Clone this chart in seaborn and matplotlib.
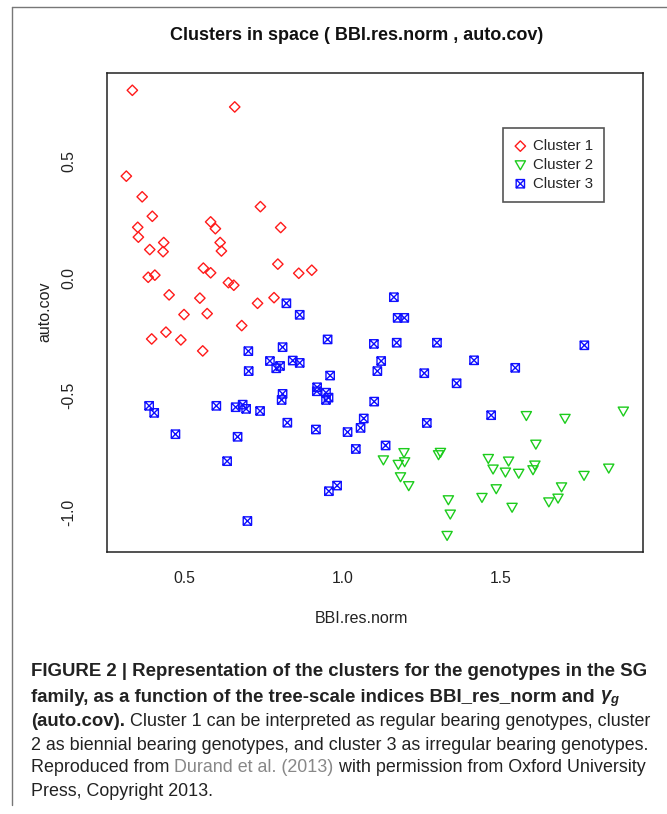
import numpy as np
import pandas as pd
import matplotlib
matplotlib.use("Agg")
import matplotlib.pyplot as plt
from matplotlib.path import Path
from matplotlib.lines import Line2D
import seaborn as sns

# cluster 1 - regular bearing
c1_bbi = [0.337, 0.660, 0.318, 0.368, 0.400, 0.354, 0.356, 0.392, 0.436, 0.434, 0.584, 0.599,
          0.614, 0.618, 0.387, 0.408, 0.561, 0.584, 0.640, 0.657, 0.453, 0.550, 0.741, 0.805,
          0.796, 0.862, 0.903, 0.784, 0.732, 0.682, 0.500, 0.573, 0.443, 0.398, 0.490, 0.559]
c1_auto = [0.801, 0.730, 0.435, 0.347, 0.264, 0.217, 0.175, 0.122, 0.152, 0.113, 0.240, 0.211,
           0.152, 0.116, 0.004, 0.013, 0.043, 0.023, -0.019, -0.030, -0.071, -0.085, 0.305, 0.216,
           0.060, 0.021, 0.034, -0.083, -0.107, -0.202, -0.155, -0.151, -0.230, -0.259, -0.263, -0.310]

# cluster 2 - biennial bearing
c2_bbi = [1.129, 1.194, 1.176, 1.196, 1.183, 1.209, 1.309, 1.303, 1.460, 1.524, 1.475, 1.514,
          1.556, 1.485, 1.440, 1.334, 1.340, 1.535, 1.330, 1.580, 1.702, 1.886, 1.610, 1.607,
          1.601, 1.762, 1.840, 1.691, 1.680, 1.651]
c2_auto = [-0.775, -0.744, -0.794, -0.783, -0.847, -0.885, -0.743, -0.753, -0.769, -0.780, -0.814, -0.827,
           -0.832, -0.898, -0.935, -0.945, -1.006, -0.977, -1.097, -0.586, -0.598, -0.567, -0.708, -0.797,
           -0.817, -0.841, -0.810, -0.890, -0.938, -0.954]

# cluster 3 - irregular bearing
c3_bbi = [0.823, 0.865, 0.953, 1.099, 0.811, 0.703, 0.704, 0.771, 0.791, 0.803, 0.843, 0.865,
          0.390, 0.406, 0.602, 0.663, 0.685, 0.696, 0.740, 0.473, 0.669, 0.636, 0.700, 1.162,
          1.174, 1.195, 1.171, 1.298, 1.122, 1.110, 0.961, 1.258, 1.415, 1.545, 1.763, 1.360,
          1.469, 1.266, 1.136, 0.811, 0.808, 0.920, 0.919, 0.948, 0.956, 0.948, 1.100, 0.826,
          0.916, 1.067, 1.057, 1.016, 1.042, 0.983, 0.957]
c3_auto = [-0.107, -0.156, -0.261, -0.280, -0.294, -0.311, -0.396, -0.353, -0.384, -0.374, -0.351, -0.361,
           -0.544, -0.574, -0.544, -0.550, -0.539, -0.557, -0.566, -0.665, -0.676, -0.780, -1.035, -0.081,
           -0.169, -0.169, -0.275, -0.275, -0.353, -0.396, -0.415, -0.405, -0.350, -0.382, -0.286, -0.448,
           -0.584, -0.617, -0.713, -0.493, -0.519, -0.465, -0.482, -0.488, -0.509, -0.519, -0.526, -0.616,
           -0.645, -0.598, -0.638, -0.656, -0.728, -0.884, -0.908]

cluster_names = ['Cluster 1', 'Cluster 2', 'Cluster 3']
x_ticks = [0.5, 1.0, 1.5]
y_ticks = [-1.0, -0.5, 0.0, 0.5]

df = pd.concat([
    pd.DataFrame({'BBI.res.norm': c1_bbi, 'auto.cov': c1_auto, 'cluster': cluster_names[0]}),
    pd.DataFrame({'BBI.res.norm': c2_bbi, 'auto.cov': c2_auto, 'cluster': cluster_names[1]}),
    pd.DataFrame({'BBI.res.norm': c3_bbi, 'auto.cov': c3_auto, 'cluster': cluster_names[2]}),
], ignore_index=True)

sns.set_style("white")
plt.rcParams['font.family'] = ['Liberation Sans', 'DejaVu Sans']
plt.rcParams['mathtext.fontset'] = 'custom'
plt.rcParams['mathtext.it'] = 'Liberation Sans:italic:bold'
plt.rcParams['mathtext.rm'] = 'Liberation Sans:bold'

# R-like markers: open triangle down (pch 6) and square with cross (pch 7)
tri_down = Path([(-1, 0.8), (1, 0.8), (0, -0.95), (-1, 0.8)],
                [Path.MOVETO, Path.LINETO, Path.LINETO, Path.CLOSEPOLY])
box_x = Path([(-1, -1), (1, -1), (1, 1), (-1, 1), (-1, -1),
              (-1, -1), (1, 1), (-1, 1), (1, -1)],
             [Path.MOVETO, Path.LINETO, Path.LINETO, Path.LINETO, Path.CLOSEPOLY,
              Path.MOVETO, Path.LINETO, Path.MOVETO, Path.LINETO])

styles = {
    'Cluster 1': dict(marker='D', color='#ff1a1a', s=28),
    'Cluster 2': dict(marker=tri_down, color='#1ccc1c', s=54),
    'Cluster 3': dict(marker=box_x, color='#1010ff', s=36),
}

fig = plt.figure(figsize=(6.67, 8.14), dpi=100)
ax = fig.add_axes([0.1604, 0.3219, 0.8036, 0.5888])

for name in cluster_names:
    st = styles[name]
    sub = df[df['cluster'] == name]
    sns.scatterplot(data=sub, x='BBI.res.norm', y='auto.cov', ax=ax,
                    marker=st['marker'], s=st['s'], color=st['color'],
                    facecolor='none', edgecolor=st['color'], linewidth=1.0,
                    label=name, legend=False, zorder=3)

ax.set_xlim(0.257, 1.948)
ax.set_ylim(-1.167, 0.876)
ax.set_xticks(x_ticks)
ax.set_xticklabels([f'{v:.1f}' for v in x_ticks])
ax.set_yticks(y_ticks)
ax.set_yticklabels([f'{v:.1f}' for v in y_ticks], rotation=90, va='center')
ax.tick_params(axis='both', direction='out', length=5, width=0.9, color='#555555',
               labelsize=11.3, labelcolor='#222222')
ax.tick_params(axis='x', pad=9)
ax.tick_params(axis='y', pad=17)
for sp in ax.spines.values():
    sp.set_visible(True)
    sp.set_color('#222222')
    sp.set_linewidth(1.1)

ax.set_xlabel('BBI.res.norm', fontsize=11.5, color='#222222', va='center')
ax.set_ylabel('auto.cov', fontsize=11.5, color='#222222', va='center', ha='center')
ax.xaxis.set_label_coords(0.474, -0.138)
ax.yaxis.set_label_coords(-0.116, 0.501)

leg = ax.legend(loc='upper left', bbox_to_anchor=(0.739, 0.885), fontsize=10.8,
                frameon=True, fancybox=False, edgecolor='#555555', framealpha=1,
                handlelength=0.8, handletextpad=0.45, labelspacing=0.32,
                borderpad=0.75, borderaxespad=0)
leg.get_frame().set_linewidth(1.2)

fig.text(357 / 667, 1 - 35 / 814, 'Clusters in space ( BBI.res.norm , auto.cov)',
         ha='center', va='center', fontsize=13, fontweight='bold', color='#111111')

# border lines of the figure panel
fig.add_artist(Line2D([12 / 667, 12 / 667], [1 - 7 / 814, 1 - 805 / 814],
                      transform=fig.transFigure, color='#777777', lw=1))
fig.add_artist(Line2D([12 / 667, 1], [1 - 7 / 814, 1 - 7 / 814],
                      transform=fig.transFigure, color='#777777', lw=1))

# caption
cap_x = 31 / 667
size_bold = 13.4
size_reg = 12.9
dark = '#222222'
line_y = [670, 695, 719, 743, 766, 790]
caption = [
    [('FIGURE 2 | Representation of the clusters for the genotypes in the SG', 'bold', dark)],
    [('family, as a function of the tree-scale indices BBI_res_norm and ', 'bold', dark),
     (r'$\gamma_g$', 'bold', dark)],
    [('(auto.cov).', 'bold', dark),
     (' Cluster 1 can be interpreted as regular bearing genotypes, cluster', 'normal', dark)],
    [('2 as biennial bearing genotypes, and cluster 3 as irregular bearing genotypes.', 'normal', dark)],
    [('Reproduced from ', 'normal', dark), ('Durand et al. (2013)', 'normal', '#888888'),
     (' with permission from Oxford University', 'normal', dark)],
    [('Press, Copyright 2013.', 'normal', dark)],
]
renderer = fig.canvas.get_renderer()
for y, parts in zip(line_y, caption):
    x = cap_x
    for txt, weight, col in parts:
        size = size_bold if weight == 'bold' else size_reg
        t = fig.text(x, 1 - y / 814, txt, ha='left', va='center_baseline',
                     fontsize=size, fontweight=weight, color=col)
        bb = t.get_window_extent(renderer=renderer)
        x = bb.x1 / fig.bbox.width

fig.savefig('out.png', dpi=100)
